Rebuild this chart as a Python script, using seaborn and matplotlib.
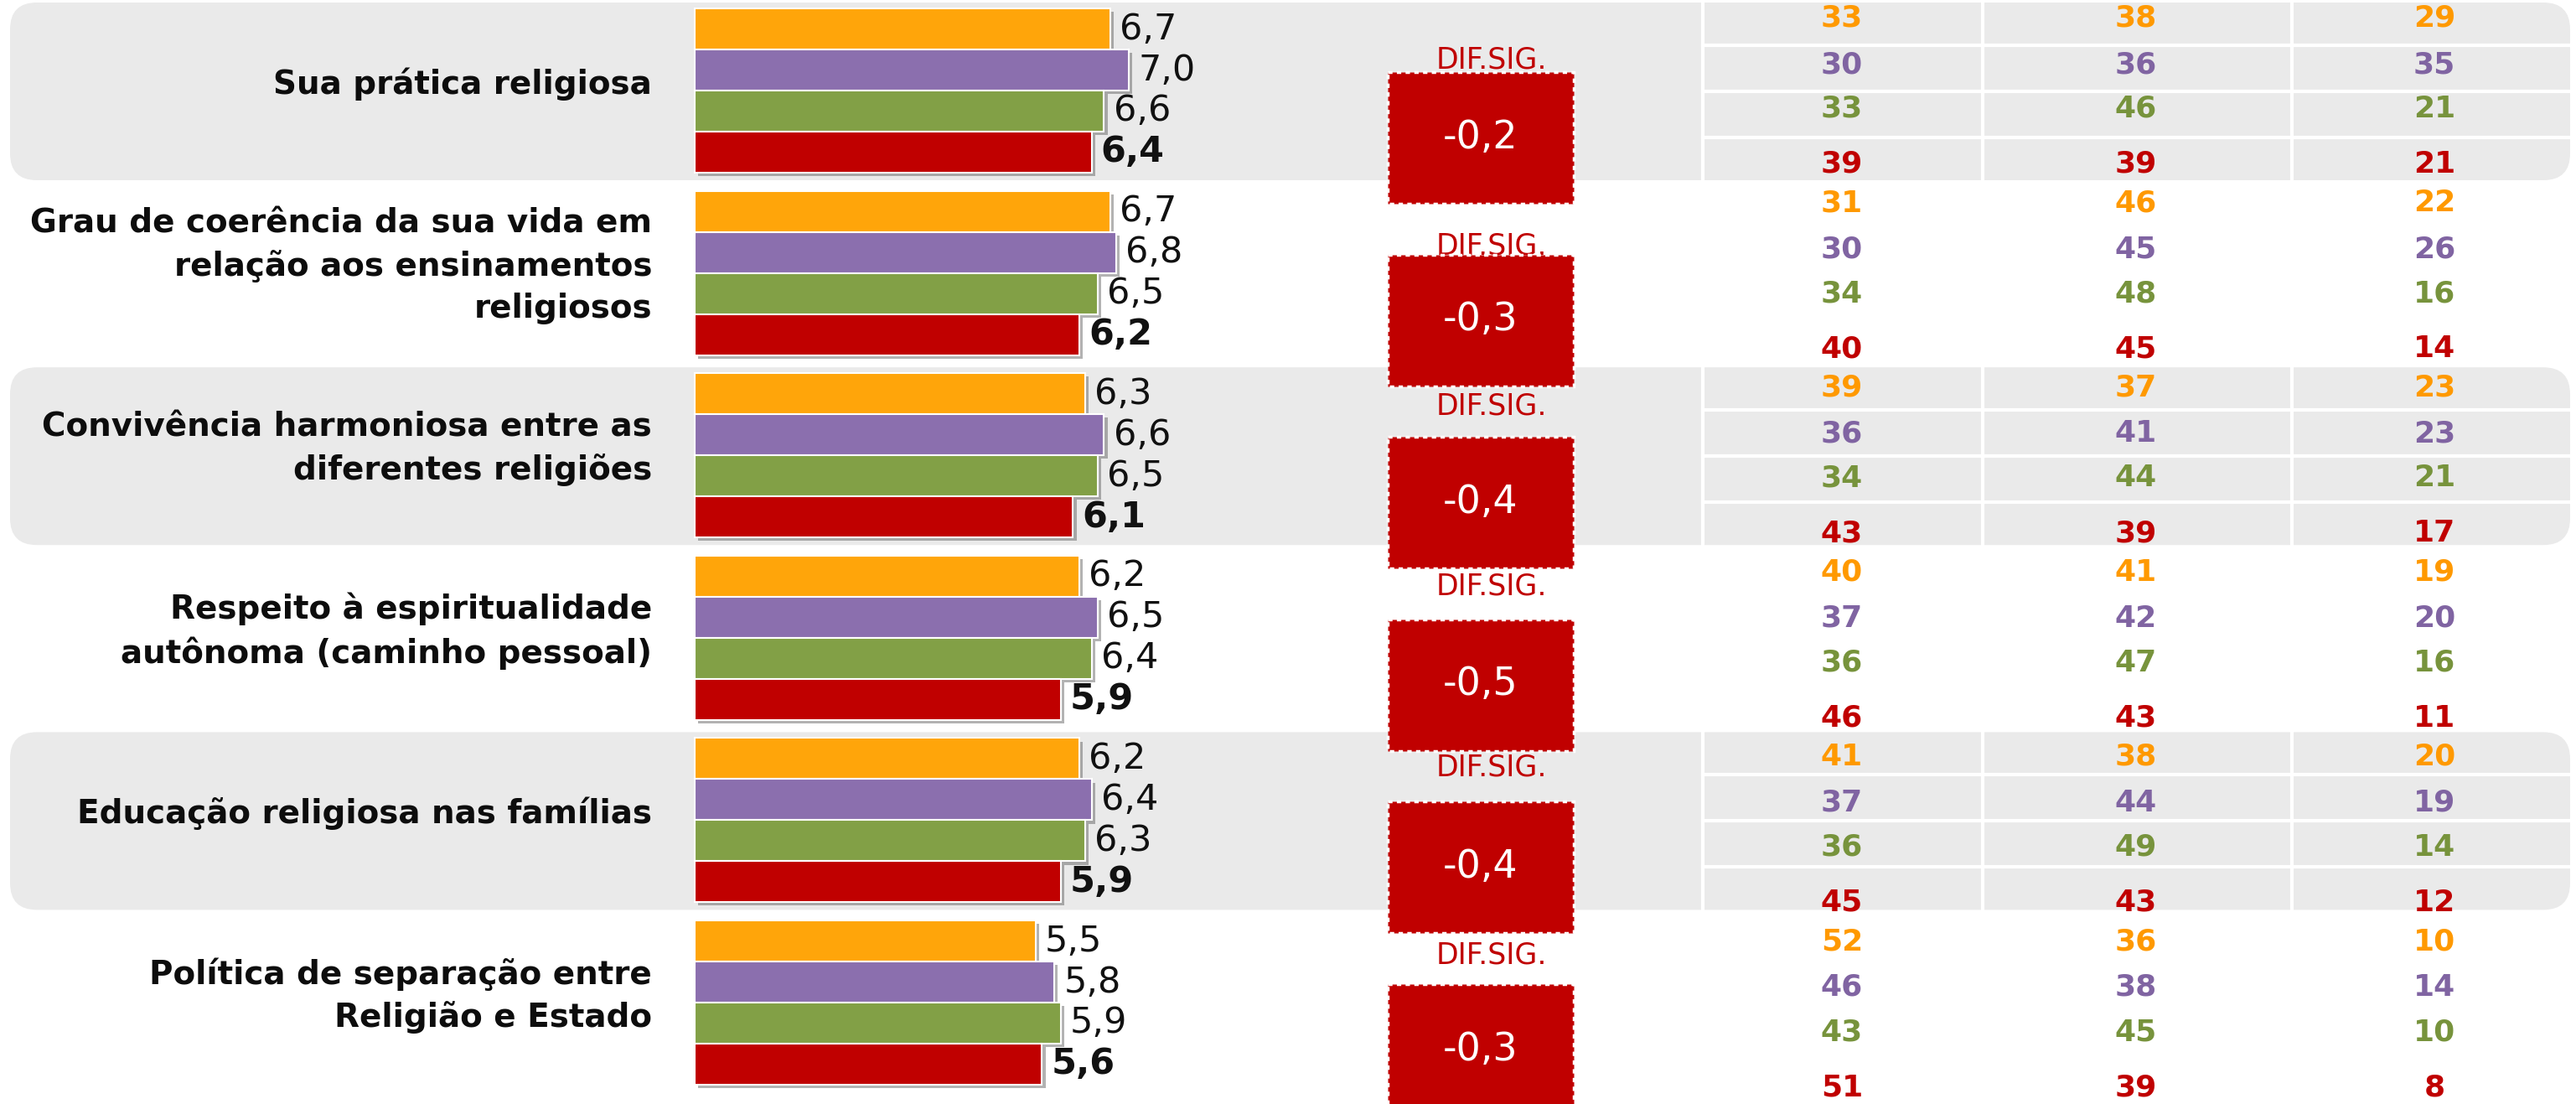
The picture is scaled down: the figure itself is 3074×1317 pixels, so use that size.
import matplotlib
matplotlib.use("Agg")
import matplotlib.pyplot as plt
import matplotlib.patheffects as pe
from matplotlib.patches import FancyBboxPatch, Rectangle
import pandas as pd
import seaborn as sns

# dados
itens = [
    "Sua prática religiosa",
    "Grau de coerência da sua vida em\nrelação aos ensinamentos\nreligiosos",
    "Convivência harmoniosa entre as\ndiferentes religiões",
    "Respeito à espiritualidade\nautônoma (caminho pessoal)",
    "Educação religiosa nas famílias",
    "Política de separação entre\nReligião e Estado",
]
series = ["s1", "s2", "s3", "s4"]
serie_laranja = [6.7, 6.7, 6.3, 6.2, 6.2, 5.5]
serie_roxa = [7.0, 6.8, 6.6, 6.5, 6.4, 5.8]
serie_verde = [6.6, 6.5, 6.5, 6.4, 6.3, 5.9]
serie_vermelha = [6.4, 6.2, 6.1, 5.9, 5.9, 5.6]
dif_sig = [-0.2, -0.3, -0.4, -0.5, -0.4, -0.3]

tab_laranja = [[33, 38, 29], [31, 46, 22], [39, 37, 23], [40, 41, 19], [41, 38, 20], [52, 36, 10]]
tab_roxa = [[30, 36, 35], [30, 45, 26], [36, 41, 23], [37, 42, 20], [37, 44, 19], [46, 38, 14]]
tab_verde = [[33, 46, 21], [34, 48, 16], [34, 44, 21], [36, 47, 16], [36, 49, 14], [43, 45, 10]]
tab_vermelha = [[39, 39, 21], [40, 45, 14], [43, 39, 17], [46, 43, 11], [45, 43, 12], [51, 39, 8]]

cores_barra = ["#FFA50A", "#8B6FAE", "#82A046", "#C00000"]
cores_tab = ["#FF9900", "#8064A2", "#77933C", "#C00000"]
cinza = "#EAEAEA"


def fmt(v):
    return f"{v:.1f}".replace(".", ",")


df = pd.DataFrame({
    "item": itens * 4,
    "serie": [s for s in series for _ in itens],
    "valor": serie_laranja + serie_roxa + serie_verde + serie_vermelha,
})

# layout em pixels
W, H = 3074, 1317
ROW0, PITCH = 108, 217.6     # centro do 1o grupo de barras, passo entre grupos
X0, PXU = 829, 74            # origem das barras e px por unidade
TAB0, TAB_PITCH = 22, 220.2
tab_dy = [0, 55, 108, 174]
col_x = [2198, 2549, 2905]
dif_dy = [-36, -32, -59, -61, -63, -56]
centros = [ROW0 + i * PITCH for i in range(len(itens))]

fig = plt.figure(figsize=(W / 100, H / 100), dpi=100)
bg = fig.add_axes([0, 0, 1, 1])
bg.set_xlim(0, W)
bg.set_ylim(H, 0)
bg.axis("off")

# faixas cinzas
for i in (0, 2, 4):
    c = centros[i]
    top, bot = c - 105, c + 107
    bg.add_patch(FancyBboxPatch((12, top), 3055, bot - top,
                                boxstyle="round,pad=0,rounding_size=32",
                                fc=cinza, ec="none", zorder=0))
    for x in (2032, 2366, 2735):
        bg.plot([x, x], [top, bot], color="white", lw=3, zorder=1)
    for dy in (51, 106, 161):
        bg.plot([2032, 3067], [top + dy, top + dy], color="white", lw=3, zorder=1)

# rótulos dos itens
for c, txt in zip(centros, itens):
    bg.text(778, c - 8, txt, ha="right", va="center", fontsize=28,
            fontweight="bold", color="#0D0D0D", linespacing=1.4)

# caixas DIF.SIG.
for c, d, dy in zip(centros, dif_sig, dif_dy):
    bg.text(1780, c + dy, "DIF.SIG.", ha="center", va="center",
            fontsize=25, color="#C00000", zorder=2)
    bg.add_patch(Rectangle((1656, c - 22), 222, 157, fc="#C00000", ec="white",
                           lw=2.5, ls=(0, (1.5, 1.5)), zorder=3))
    bg.text(1767, c + 56, fmt(d), ha="center", va="center", fontsize=33,
            color="white", zorder=4)

# tabela
tabs = [tab_laranja, tab_roxa, tab_verde, tab_vermelha]
for i in range(len(itens)):
    y0 = TAB0 + i * TAB_PITCH
    for k, tab in enumerate(tabs):
        for x, v in zip(col_x, tab[i]):
            bg.text(x, y0 + tab_dy[k], str(v), ha="center", va="center",
                    fontsize=26, fontweight="bold", color=cores_tab[k], zorder=2)

# barras
ax = fig.add_axes([0, 0, 1, 1])
ax.patch.set_alpha(0)
sns.barplot(data=df, y="item", x="valor", hue="serie", orient="h",
            palette=cores_barra, saturation=1, width=0.9, errorbar=None,
            edgecolor="white", linewidth=1.5, legend=False, ax=ax)
for p in ax.patches:
    p.set_path_effects([pe.SimplePatchShadow(offset=(3, -3), shadow_rgbFace="#555555", alpha=0.45),
                        pe.Normal()])
vals = [serie_laranja, serie_roxa, serie_verde, serie_vermelha]
for k, cont in enumerate(ax.containers):
    ax.bar_label(cont, labels=[fmt(v) for v in vals[k]], padding=8, fontsize=31,
                 fontweight="bold" if k == 3 else "normal", color="#111111")

ax.set_xlim(-X0 / PXU, (W - X0) / PXU)
ax.set_ylim((H - ROW0) / PITCH, -ROW0 / PITCH)
ax.axis("off")

fig.savefig("out.png", dpi=100)
